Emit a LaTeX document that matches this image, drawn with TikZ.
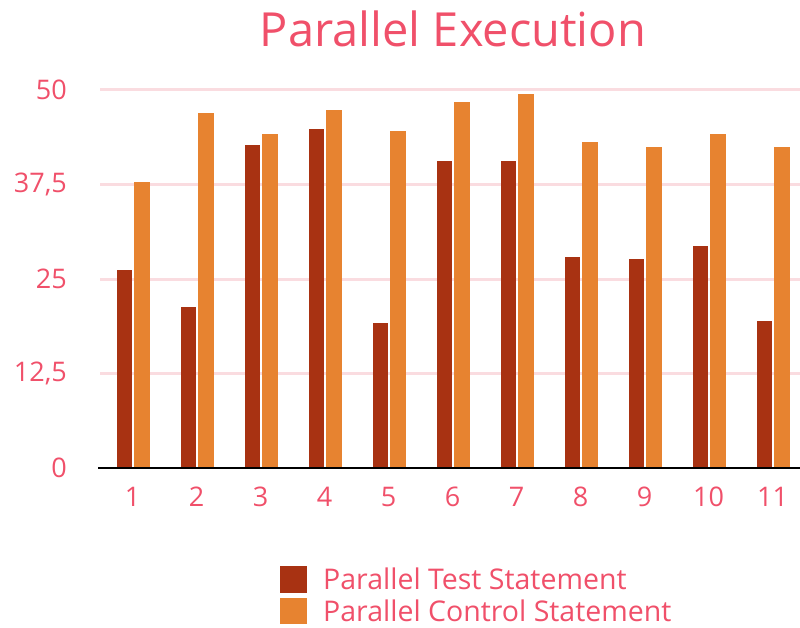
\documentclass[tikz,border=0pt]{standalone}
\usepackage{fontspec}
\setmainfont{Open Sans}
\definecolor{txt}{HTML}{F0506A}
\definecolor{testc}{HTML}{A83212}
\definecolor{ctrlc}{HTML}{E78330}
\definecolor{gridc}{HTML}{FADCE0}
\tikzset{
  ticklabel/.style={text=txt, font=\fontsize{27}{27}\selectfont, inner sep=0pt},
  legendtext/.style={text=txt, font=\fontsize{28.5}{28.5}\selectfont, anchor=west, inner sep=0pt},
  gridline/.style={gridc, line width=3pt},
}
\begin{document}
\begin{tikzpicture}[x=1pt,y=-1pt]
\useasboundingbox (0,0) rectangle (800,628);
% title
\node[text=txt, font=\fontsize{47}{47}\selectfont, inner sep=0pt] (title) at (453,29) {Parallel Execution};
% horizontal grid and value labels
\foreach \v/\lab [count=\k] in {0/0,12.5/{12,5},25/25,37.5/{37,5},50/50}{
  \pgfmathsetmacro\yy{468-7.56*\v}
  \ifnum\k>1 \draw[gridline] (100,\yy) -- (800,\yy); \fi
  \node[ticklabel, anchor=east] (ylab\k) at (67,\yy) {\lab};
}
% bars: test / control per group
\foreach \t/\c [count=\i] in {26.2/37.8,21.3/47.0,42.7/44.2,44.8/47.4,19.2/44.6,40.6/48.4,40.6/49.5,27.9/43.1,27.6/42.5,29.4/44.2,19.4/42.5}{
  \pgfmathsetmacro\cx{133.5+64*(\i-1)}
  \fill[testc] (\cx-16.5,468) rectangle (\cx-1.5,{468-7.56*\t});
  \fill[ctrlc] (\cx+0.5,468) rectangle (\cx+16.5,{468-7.56*\c});
  \node[ticklabel] (xlab\i) at (\cx-1,497) {\i};
}
% category axis
\draw[black, line width=2.5pt] (98,468) -- (800,468);
% legend
\fill[testc] (280,566) rectangle (307,593);
\fill[ctrlc] (280,598) rectangle (307,624);
\node[legendtext] (legtest) at (323,579) {Parallel Test Statement};
\node[legendtext] (legctrl) at (323,611) {Parallel Control Statement};
\end{tikzpicture}
\end{document}
